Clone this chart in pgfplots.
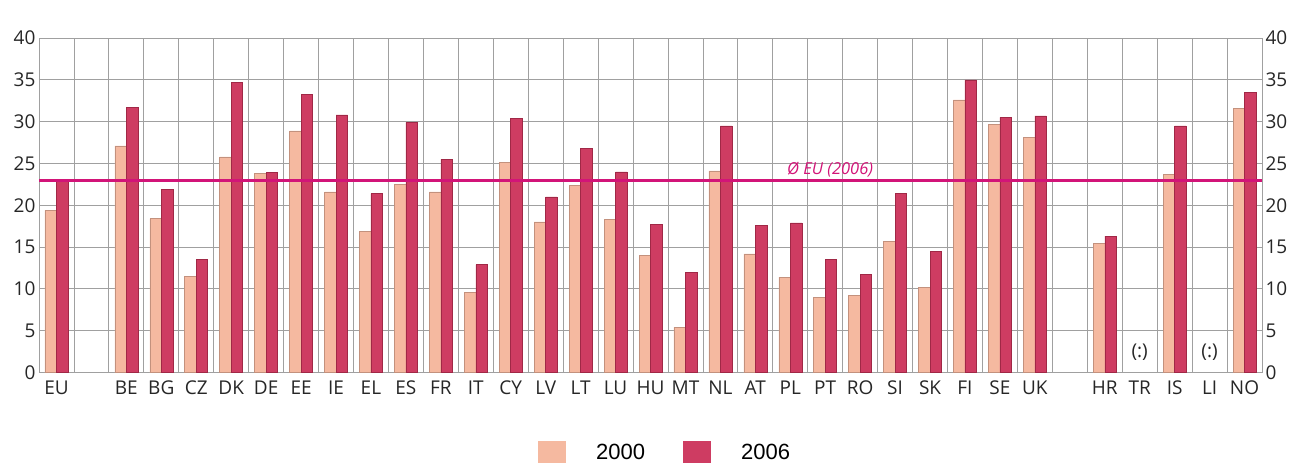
\documentclass[border=0pt]{standalone}
\usepackage{pgfplots}
\pgfplotsset{compat=1.18}
\usepackage{fontspec}
\setmainfont{Open Sans}
\newfontfamily\legfont{Liberation Sans}
\definecolor{c2000}{RGB}{245,185,160}
\definecolor{c2000d}{RGB}{195,145,125}
\definecolor{c2006}{RGB}{206,60,98}
\definecolor{c2006d}{RGB}{160,40,70}
\definecolor{eul}{RGB}{210,20,120}
\definecolor{gridc}{RGB}{160,160,160}
\begin{document}
\begin{tikzpicture}[x=1pt,y=1pt]
\useasboundingbox (-39,-91.5) rectangle (1252,372.5);
\begin{axis}[
  at={(0,0)}, anchor=south west,
  width=1223pt, height=334.5pt, scale only axis,
  xmin=-0.5, xmax=34.5, ymin=0, ymax=40,
  ybar=0pt, bar width=11.5pt,
  xtick={0,2,3,4,5,6,7,8,9,10,11,12,13,14,15,16,17,18,19,20,21,22,23,24,25,26,27,28,30,31,32,33,34},
  xticklabels={EU,BE,BG,CZ,DK,DE,EE,IE,EL,ES,FR,IT,CY,LV,LT,LU,HU,MT,NL,AT,PL,PT,RO,SI,SK,FI,SE,UK,HR,TR,IS,LI,NO},
  minor xtick={0.5,1.5,...,33.5},
  xminorgrids, ymajorgrids,
  ytick={0,5,...,40},
  grid style={gridc, line width=0.8pt},
  minor grid style={gridc, line width=0.8pt},
  axis line style={gridc, line width=0.8pt},
  major tick length=0pt, minor tick length=0pt,
  /pgf/number format/assume math mode=true,
  ticklabel style={font=\fontsize{19}{19}\selectfont, text=black!85},
  xticklabel style={yshift=-5pt},
  legend style={at={(0.408,-0.205)}, anchor=north west, draw=none, fill=none,
    inner sep=0pt, legend columns=2,
    font=\legfont\fontsize{22}{22}\selectfont,
    /tikz/every odd column/.append style={column sep=28pt},
    /tikz/every even column/.append style={column sep=36pt}},
  legend image code/.code={\path[#1,draw=none] (0pt,-11pt) rectangle (28pt,11pt);},
]
\addplot[fill=c2000, draw=c2000d, line width=0.5pt] coordinates {
(0,19.4)(2,27.1)(3,18.4)(4,11.5)(5,25.8)(6,23.8)(7,28.9)(8,21.6)(9,16.9)(10,22.5)(11,21.6)(12,9.6)(13,25.1)(14,18.0)(15,22.4)(16,18.3)(17,14.0)(18,5.4)(19,24.1)(20,14.2)(21,11.4)(22,9.0)(23,9.2)(24,15.7)(25,10.2)(26,32.6)(27,29.7)(28,28.1)(30,15.4)(32,23.7)(34,31.6)};
\addplot[fill=c2006, draw=c2006d, line width=0.5pt] coordinates {
(0,23.0)(2,31.7)(3,21.9)(4,13.5)(5,34.7)(6,23.9)(7,33.3)(8,30.8)(9,21.4)(10,29.9)(11,25.5)(12,12.9)(13,30.4)(14,21.0)(15,26.8)(16,24.0)(17,17.7)(18,12.0)(19,29.5)(20,17.6)(21,17.9)(22,13.5)(23,11.7)(24,21.4)(25,14.5)(26,35.0)(27,30.5)(28,30.7)(30,16.3)(32,29.5)(34,33.5)};
\legend{2000,2006}
\addplot[sharp plot, forget plot, eul, line width=2.8pt] coordinates {(-0.5,23)(34.5,23)};
\node[anchor=base, text=eul, font=\itshape\fontsize{16.5}{16.5}\selectfont] at (axis cs:22.14,23) [yshift=5.5pt] {Ø EU (2006)};
\node[font=\fontsize{19}{19}\selectfont, text=black!85] at (axis cs:31,2.4) {(:)};
\node[font=\fontsize{19}{19}\selectfont, text=black!85] at (axis cs:33,2.4) {(:)};
\node[font=\fontsize{19}{19}\selectfont, text=black!85] at (rel axis cs:0,1) [xshift=13pt, yshift=20pt] {\%};
\node[font=\fontsize{19}{19}\selectfont, text=black!85] at (rel axis cs:1,1) [xshift=-15pt, yshift=20pt] {\%};
\end{axis}
\begin{axis}[
  at={(0,0)}, anchor=south west,
  width=1223pt, height=334.5pt, scale only axis,
  xmin=-0.5, xmax=34.5, ymin=0, ymax=40,
  hide x axis, axis y line*=right, axis line style={draw=none},
  ytick={0,5,...,40}, major tick length=0pt,
  /pgf/number format/assume math mode=true,
  ticklabel style={font=\fontsize{19}{19}\selectfont, text=black!85},
]
\addplot[draw=none] coordinates {(0,0)(1,1)};
\end{axis}
\end{tikzpicture}
\end{document}
